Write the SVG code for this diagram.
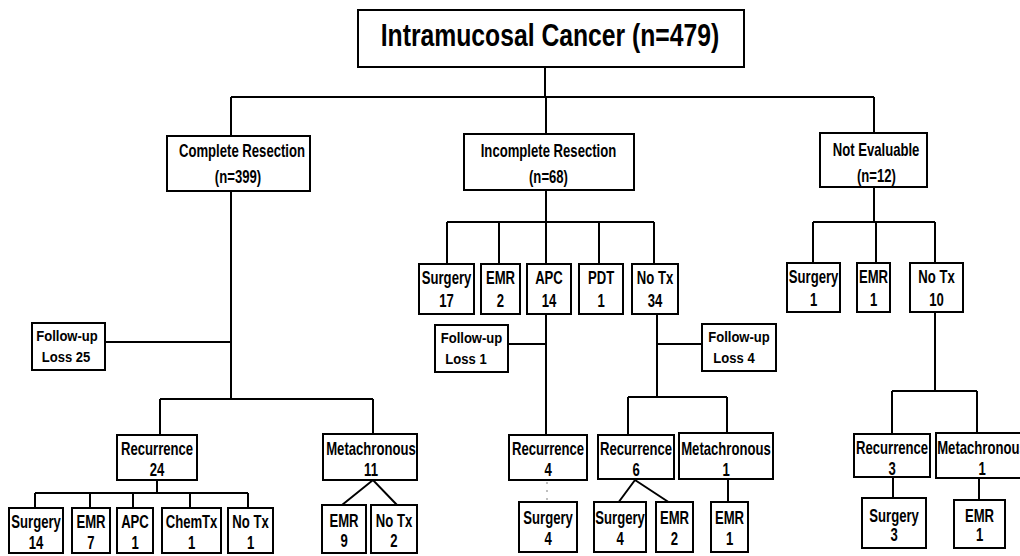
<svg xmlns="http://www.w3.org/2000/svg" width="1020" height="556" viewBox="0 0 1020 556">
<style>
.box{fill:#fff;stroke:#000;stroke-width:2}
.ln{fill:none;stroke:#000;stroke-width:2}
.faint{fill:none;stroke:#aaa;stroke-width:1.5;stroke-dasharray:2 6}
text{font-family:"Liberation Sans",Arial,sans-serif;font-weight:bold;font-size:17.5px;text-anchor:middle;fill:#000;transform-box:fill-box;transform-origin:center;transform:scaleX(0.75)}
text.ttl{font-size:31.5px;transform:scaleX(0.785)}
text.fu{font-size:14.5px;transform:scaleX(0.9)}
</style>
<rect width="1020" height="556" fill="#fff"/>
<g id="connectors">
<path class="ln" d="M545 67V97M231 97H874M231 97V136M546 97V134M874 97V133"/>
<path class="ln" d="M231 191V399M105 342H231M160 399H373M160 399V435M373 399V434"/>
<path class="ln" d="M157 480V493M35 493H248M35 493V508M90 493V508M133 493V508M190 493V508M248 493V508"/>
<path class="ln" d="M342 505L373 480L397 505"/>
<path class="ln" d="M546 190V222M447 222H654M447 222V264M499 222V264M546 222V264M599 222V264M654 222V264"/>
<path class="ln" d="M546 314V435M508 344H546"/>
<path class="faint" d="M547 482V502"/>
<path class="ln" d="M657 314V397M657 344H702M628 397H727M628 397V435M727 397V433"/>
<path class="ln" d="M618 503L635 480L670 503M728 479V502"/>
<path class="ln" d="M874 187V222M813 222H935M813 222V263M876 222V263M935 222V263"/>
<path class="ln" d="M935 312V391M892 391H977M892 391V434M977 391V433M893 477V498M979 478V500"/>
</g>
<g id="root"><rect class="box" x="358" y="10" width="386" height="57"/><text class="ttl" x="550" y="46">Intramucosal Cancer (n=479)</text></g>
<g id="complete"><rect class="box" x="167" y="136" width="143" height="55"/><text x="242" y="157">Complete Resection</text><text x="238" y="183">(n=399)</text></g>
<g id="incomplete"><rect class="box" x="464" y="134" width="170" height="56"/><text x="548.5" y="157">Incomplete Resection</text><text x="548.5" y="183">(n=68)</text></g>
<g id="noteval"><rect class="box" x="820" y="133" width="107" height="54"/><text x="876" y="156">Not Evaluable</text><text x="876.5" y="182">(n=12)</text></g>
<g id="fu25"><rect class="box" x="32" y="323" width="73" height="47"/><text class="fu" x="67" y="341">Follow-up</text><text class="fu" x="66" y="362">Loss 25</text></g>
<g id="rec24"><rect class="box" x="117" y="435" width="80" height="45"/><text x="157" y="455">Recurrence</text><text x="157" y="476">24</text></g>
<g id="met11"><rect class="box" x="323" y="434" width="94" height="46"/><text x="371" y="455">Metachronous</text><text x="371" y="476">11</text></g>
<g id="s14"><rect class="box" x="9" y="508" width="54" height="45"/><text x="36" y="528">Surgery</text><text x="36" y="549">14</text></g>
<g id="emr7"><rect class="box" x="72" y="508" width="38" height="45"/><text x="91" y="528">EMR</text><text x="91" y="549">7</text></g>
<g id="apc1"><rect class="box" x="117" y="508" width="36" height="45"/><text x="135" y="528">APC</text><text x="135" y="549">1</text></g>
<g id="chem1"><rect class="box" x="162" y="508" width="59" height="45"/><text x="191.5" y="528">ChemTx</text><text x="191.5" y="549">1</text></g>
<g id="notx1"><rect class="box" x="228" y="508" width="45" height="45"/><text x="250.5" y="528">No Tx</text><text x="250.5" y="549">1</text></g>
<g id="emr9"><rect class="box" x="322" y="505" width="44" height="48"/><text x="344" y="527">EMR</text><text x="344" y="547">9</text></g>
<g id="notx2"><rect class="box" x="371" y="505" width="46" height="48"/><text x="394" y="527">No Tx</text><text x="394" y="547">2</text></g>
<g id="s17"><rect class="box" x="419" y="264" width="55" height="50"/><text x="446.5" y="284">Surgery</text><text x="446.5" y="307">17</text></g>
<g id="emr2"><rect class="box" x="481" y="264" width="39" height="50"/><text x="500.5" y="284">EMR</text><text x="500.5" y="307">2</text></g>
<g id="apc14"><rect class="box" x="527" y="264" width="44" height="50"/><text x="549" y="284">APC</text><text x="549" y="307">14</text></g>
<g id="pdt1"><rect class="box" x="579" y="264" width="44" height="50"/><text x="601" y="284">PDT</text><text x="601" y="307">1</text></g>
<g id="notx34"><rect class="box" x="632" y="264" width="46" height="50"/><text x="655" y="284">No Tx</text><text x="655" y="307">34</text></g>
<g id="fu1"><rect class="box" x="435" y="325" width="73" height="47"/><text class="fu" x="471.5" y="343">Follow-up</text><text class="fu" x="466" y="364">Loss 1</text></g>
<g id="fu4"><rect class="box" x="702" y="324" width="74" height="47"/><text class="fu" x="739" y="342">Follow-up</text><text class="fu" x="734" y="363">Loss 4</text></g>
<g id="rec4"><rect class="box" x="509" y="435" width="78" height="45"/><text x="548" y="455">Recurrence</text><text x="548" y="476">4</text></g>
<g id="s4a"><rect class="box" x="519" y="502" width="58" height="50"/><text x="548" y="524">Surgery</text><text x="548" y="545">4</text></g>
<g id="rec6"><rect class="box" x="598" y="435" width="76" height="44"/><text x="636" y="455">Recurrence</text><text x="636" y="476">6</text></g>
<g id="met1a"><rect class="box" x="679" y="433" width="94" height="46"/><text x="726" y="455">Metachronous</text><text x="726" y="476">1</text></g>
<g id="s4b"><rect class="box" x="594" y="502" width="52" height="50"/><text x="620" y="524">Surgery</text><text x="620" y="545">4</text></g>
<g id="emr2b"><rect class="box" x="656" y="502" width="37" height="50"/><text x="674.5" y="524">EMR</text><text x="674.5" y="545">2</text></g>
<g id="emr1a"><rect class="box" x="711" y="502" width="37" height="50"/><text x="729.5" y="524">EMR</text><text x="729.5" y="545">1</text></g>
<g id="s1"><rect class="box" x="787" y="263" width="53" height="49"/><text x="813.5" y="283">Surgery</text><text x="813.5" y="306">1</text></g>
<g id="emr1b"><rect class="box" x="857" y="263" width="33" height="49"/><text x="873.5" y="283">EMR</text><text x="873.5" y="306">1</text></g>
<g id="notx10"><rect class="box" x="910" y="263" width="53" height="49"/><text x="936.5" y="283">No Tx</text><text x="936.5" y="306">10</text></g>
<g id="rec3"><rect class="box" x="854" y="434" width="76" height="43"/><text x="892" y="454">Recurrence</text><text x="892" y="475">3</text></g>
<g id="met1b"><rect class="box" x="936" y="433" width="92" height="45"/><text x="982" y="454">Metachronous</text><text x="982" y="475">1</text></g>
<g id="s3"><rect class="box" x="862" y="498" width="64" height="50"/><text x="894" y="522">Surgery</text><text x="894" y="541">3</text></g>
<g id="emr1c"><rect class="box" x="954" y="500" width="51" height="48"/><text x="979.5" y="522">EMR</text><text x="979.5" y="541">1</text></g>
</svg>
